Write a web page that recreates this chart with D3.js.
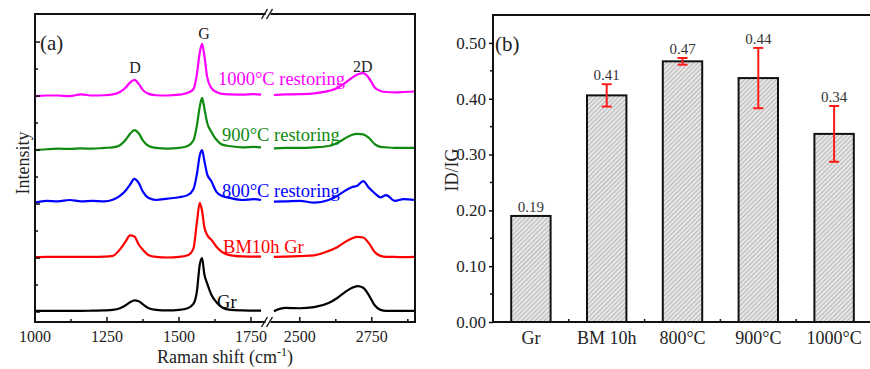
<!DOCTYPE html>
<html><head><meta charset="utf-8">
<script src="https://cdn.jsdelivr.net/npm/d3@7/dist/d3.min.js"></script>
<style>body{margin:0;background:#fff}svg{display:block}</style>
</head><body>
<svg id="c" width="870" height="369"></svg>
<script>
// ---------- Panel (a): Raman spectra ----------
const xs1 = [1000,1040,1080,1120,1160,1200,1240,1270,1295,1315,1330,1345,1360,1375,1395,1420,1460,1500,1530,1550,1562,1572,1580,1588,1598,1612,1630,1650,1680,1720,1760,1785];
const xs2 = [2410,2450,2500,2550,2600,2630,2655,2680,2700,2720,2740,2760,2780,2800,2830,2860,2900];
const seriesNames = ["Gr","BM10h Gr","800°C restoring","900°C restoring","1000°C restoring"];
const seriesColors = ["#000000","#ff0000","#0000ff","#108a10","#ff00ff"];
const seriesOffsets = [0, 2, 4, 6, 8];
// relative intensity (a.u.), segment 1 (1000–1785 cm-1)
const grA   = [0.04,0.04,0.04,0.04,0.04,0.05,0.06,0.08,0.14,0.25,0.36,0.43,0.40,0.28,0.14,0.08,0.06,0.08,0.14,0.30,0.75,1.75,2.00,1.40,1.05,0.65,0.36,0.17,0.08,0.06,0.05,0.05];
const bmA   = [0.03,0.04,0.04,0.04,0.04,0.04,0.05,0.08,0.32,0.62,0.84,0.80,0.50,0.30,0.10,0.04,0.02,0.04,0.10,0.35,1.30,2.04,1.75,1.15,0.85,0.68,0.42,0.22,0.10,0.06,0.05,0.05];
const r800A = [0.05,0.12,0.10,0.15,0.10,0.12,0.10,0.16,0.30,0.50,0.72,0.93,0.78,0.45,0.22,0.15,0.20,0.25,0.33,0.55,1.10,1.80,2.00,1.60,1.10,0.85,0.45,0.30,0.22,0.15,0.18,0.15];
const r900A = [0.00,0.03,0.05,0.04,0.06,0.05,0.08,0.10,0.18,0.38,0.60,0.74,0.62,0.35,0.15,0.08,0.05,0.08,0.15,0.35,0.90,1.60,1.93,1.55,1.00,0.68,0.38,0.20,0.14,0.10,0.12,0.10];
const r1000A= [0.00,0.02,0.02,0.00,0.06,0.02,0.03,0.06,0.15,0.32,0.50,0.60,0.45,0.22,0.08,0.03,0.02,0.05,0.12,0.25,0.80,1.60,1.93,1.50,0.70,0.30,0.15,0.08,0.06,0.05,0.07,0.05];
// segment 2 (2410–2900 cm-1)
const grB   = [0.03,0.15,0.14,0.18,0.33,0.52,0.72,0.89,0.96,0.90,0.62,0.25,0.08,0.04,0.04,0.04,0.04];
const bmB   = [0.04,0.05,0.07,0.10,0.26,0.40,0.58,0.72,0.78,0.76,0.55,0.22,0.08,0.04,0.04,0.03,0.04];
const r800B = [0.09,0.10,0.12,0.05,0.15,0.30,0.48,0.62,0.68,0.85,0.60,0.40,0.25,0.33,0.12,0.18,0.15];
const r900B = [0.06,0.08,0.08,0.10,0.15,0.26,0.42,0.56,0.60,0.58,0.45,0.22,0.12,0.10,0.08,0.08,0.08];
const r1000B= [0.04,0.06,0.07,0.10,0.19,0.30,0.47,0.67,0.80,0.85,0.67,0.32,0.19,0.15,0.14,0.15,0.17];
const segA = [grA, bmA, r800A, r900A, r1000A];
const segB = [grB, bmB, r800B, r900B, r1000B];
const labelX = [1632, 1653, 1649, 1649, 1635];
const labelY = [0.15, 2.19, 4.26, 6.33, 8.41];
const peakNames = ["D","G","2D"];
const peakX = [1347, 1587, 2719];
const peakY = [8.85, 10.1, 8.89];
const xTicksA = [1000,1250,1500,1750];
const xTicksB = [2500,2750];
const xMinorA = [1125,1375,1625];
const xMinorB = [2625,2875];

// ---------- Panel (b): ID/IG bars ----------
const categories = ["Gr","BM 10h","800°C","900°C","1000°C"];
const ratios = [0.19, 0.406, 0.467, 0.437, 0.337];
const errors = [0, 0.02, 0.006, 0.054, 0.05];
const ratioLabels = ["0.19","0.41","0.47","0.44","0.34"];
const yTicksB = [0,0.1,0.2,0.3,0.4,0.5];

const FONT = "'Liberation Serif','Times New Roman',serif";
const svg = d3.select("#c");
const TXT = "#222";

// ===== Panel (a) =====
const L = {l:35, r:415, t:14, b:322};
const xA = d3.scaleLinear().domain([1000,1800]).range([35, 265.4]);
const xB = d3.scaleLinear().domain([2400,2900]).range([271, 415]);
const yL = d3.scaleLinear().domain([-0.37, 11.04]).range([L.b, L.t]);
const gA = svg.append("g");

const line = (xs, sc, off) => d3.line().x((d,i)=>sc(xs[i])).y(d=>yL(d+off)).curve(d3.curveMonotoneX);
segA.forEach((vals,i)=>{
  gA.append("path").attr("d", line(xs1, xA, seriesOffsets[i])(vals))
    .attr("fill","none").attr("stroke",seriesColors[i]).attr("stroke-width",2.2).attr("stroke-linejoin","round");
});
segB.forEach((vals,i)=>{
  gA.append("path").attr("d", line(xs2, xB, seriesOffsets[i])(vals))
    .attr("fill","none").attr("stroke",seriesColors[i]).attr("stroke-width",2.2).attr("stroke-linejoin","round");
});

// frame
gA.append("rect").attr("x",L.l).attr("y",L.t).attr("width",L.r-L.l).attr("height",L.b-L.t)
  .attr("fill","none").attr("stroke","#111").attr("stroke-width",2);
// bottom ticks (inward)
const tickA = (vals, sc, len) => vals.forEach(v=>{
  gA.append("line").attr("x1",sc(v)).attr("x2",sc(v)).attr("y1",L.b).attr("y2",L.b-len).attr("stroke","#111").attr("stroke-width",1.5);
});
tickA(xTicksA, xA, 5); tickA(xTicksB, xB, 5); tickA(xMinorA, xA, 3); tickA(xMinorB, xB, 3);
// tick labels
const tl = (vals, sc) => vals.forEach(v=>{
  gA.append("text").attr("x",sc(v)).attr("y",342).attr("text-anchor","middle")
    .attr("font-family",FONT).attr("font-size",16).attr("fill",TXT).text(v);
});
tl(xTicksA, xA); tl(xTicksB, xB);
// left ticks (inward)
d3.range(0,11).forEach(k=>{
  gA.append("line").attr("x1",L.l).attr("x2",L.l+(k%2===0?5:3)).attr("y1",yL(k)).attr("y2",yL(k)).attr("stroke","#111").attr("stroke-width",1.5);
});
// axis break marks
[L.t, L.b].forEach(yy=>{
  gA.append("rect").attr("x",265.5).attr("y",yy-2).attr("width",5).attr("height",4).attr("fill","#fff");
  [264.5, 269.5].forEach(xx=>{
    gA.append("line").attr("x1",xx-3).attr("y1",yy+5).attr("x2",xx+3).attr("y2",yy-5).attr("stroke","#111").attr("stroke-width",1.4);
  });
});
// axis titles
const xt = gA.append("text").attr("x",225).attr("y",363).attr("text-anchor","middle")
  .attr("font-family",FONT).attr("font-size",18).attr("fill",TXT);
xt.append("tspan").text("Raman shift (cm");
xt.append("tspan").attr("dy",-7).attr("font-size",12).text("-1");
xt.append("tspan").attr("dy",7).text(")");
gA.append("text").attr("transform","translate(29,163) rotate(-90)").attr("text-anchor","middle")
  .attr("font-family",FONT).attr("font-size",18).attr("fill",TXT).text("Intensity");
gA.append("text").attr("x",40).attr("y",50).attr("font-family",FONT).attr("font-size",21).attr("fill",TXT).text("(a)");
// peak labels
peakNames.forEach((p,i)=>{
  const sc = peakX[i] < 2000 ? xA : xB;
  gA.append("text").attr("x",sc(peakX[i])).attr("y",yL(peakY[i])).attr("text-anchor","middle")
    .attr("font-family",FONT).attr("font-size",16).attr("fill",TXT).text(p);
});
// series labels
seriesNames.forEach((n,i)=>{
  gA.append("text").attr("x",xA(labelX[i])).attr("y",yL(labelY[i]))
    .attr("font-family",FONT).attr("font-size",18.5).attr("fill",seriesColors[i]).text(n);
});

// ===== Panel (b) =====
const R = {l:493, t:15, b:322};
const xb = d3.scaleBand().domain(categories).range([493, 872]).paddingInner(0.48).paddingOuter(0.24);
const yb = d3.scaleLinear().domain([0,0.55]).range([R.b, R.t]);
const gB = svg.append("g");
const defs = svg.append("defs");
const pat = defs.append("pattern").attr("id","hatch").attr("patternUnits","userSpaceOnUse")
  .attr("width",3.2).attr("height",3.2).attr("patternTransform","rotate(45)");
pat.append("rect").attr("width",3.2).attr("height",3.2).attr("fill","#e4e4e4");
pat.append("line").attr("x1",0).attr("y1",0).attr("x2",0).attr("y2",3.2).attr("stroke","#8c8c8c").attr("stroke-width",0.9);

gB.selectAll("rect.bar").data(ratios).join("rect").attr("class","bar")
  .attr("x",(d,i)=>xb(categories[i])).attr("y",d=>yb(d))
  .attr("width",xb.bandwidth()).attr("height",d=>yb(0)-yb(d))
  .attr("fill","url(#hatch)").attr("stroke","#111").attr("stroke-width",2);

// error bars
ratios.forEach((v,i)=>{
  if(!errors[i]) return;
  const cx = xb(categories[i]) + xb.bandwidth()/2;
  const g = gB.append("g").attr("stroke","#ff1a1a").attr("stroke-width",2);
  g.append("line").attr("x1",cx).attr("x2",cx).attr("y1",yb(v-errors[i])).attr("y2",yb(v+errors[i]));
  g.append("line").attr("x1",cx-5).attr("x2",cx+5).attr("y1",yb(v-errors[i])).attr("y2",yb(v-errors[i]));
  g.append("line").attr("x1",cx-5).attr("x2",cx+5).attr("y1",yb(v+errors[i])).attr("y2",yb(v+errors[i]));
});
// value labels
ratios.forEach((v,i)=>{
  const cx = xb(categories[i]) + xb.bandwidth()/2;
  gB.append("text").attr("x",cx).attr("y",yb(v+errors[i])-4).attr("text-anchor","middle")
    .attr("font-family",FONT).attr("font-size",15).attr("fill","#333").text(ratioLabels[i]);
});

// axes / frame (no right border visible)
gB.append("line").attr("x1",R.l).attr("x2",R.l).attr("y1",R.t).attr("y2",R.b).attr("stroke","#111").attr("stroke-width",2);
gB.append("line").attr("x1",R.l-1).attr("x2",870).attr("y1",R.t).attr("y2",R.t).attr("stroke","#111").attr("stroke-width",2);
gB.append("line").attr("x1",R.l-1).attr("x2",870).attr("y1",R.b).attr("y2",R.b).attr("stroke","#111").attr("stroke-width",2);

const yAxis = d3.axisLeft(yb).tickValues(yTicksB).tickFormat(d3.format(".2f")).tickSize(4).tickPadding(3);
const ya = gB.append("g").attr("transform",`translate(${R.l},0)`).call(yAxis);
ya.select(".domain").remove();
ya.selectAll("line").attr("stroke","#111").attr("stroke-width",1.5);
ya.selectAll("text").attr("font-family",FONT).attr("font-size",17).attr("fill",TXT);
[0.05,0.15,0.25,0.35,0.45].forEach(v=>{
  gB.append("line").attr("x1",R.l-3).attr("x2",R.l).attr("y1",yb(v)).attr("y2",yb(v)).attr("stroke","#111").attr("stroke-width",1.5);
});
// category boundary ticks
categories.slice(1).forEach(c=>{
  const bx = xb(c) - xb.step()*xb.paddingInner()/2;
  gB.append("line").attr("x1",bx).attr("x2",bx).attr("y1",R.b).attr("y2",R.b-3).attr("stroke","#111").attr("stroke-width",1.5);
});
categories.forEach(c=>{
  gB.append("text").attr("x",xb(c)+xb.bandwidth()/2).attr("y",344).attr("text-anchor","middle")
    .attr("font-family",FONT).attr("font-size",18).attr("fill",TXT).text(c);
});
gB.append("text").attr("transform","translate(458,170) rotate(-90)").attr("text-anchor","middle")
  .attr("font-family",FONT).attr("font-size",18).attr("fill",TXT).text("ID/IG");
gB.append("text").attr("x",495).attr("y",51).attr("font-family",FONT).attr("font-size",21).attr("fill",TXT).text("(b)");
</script>
</body></html>
